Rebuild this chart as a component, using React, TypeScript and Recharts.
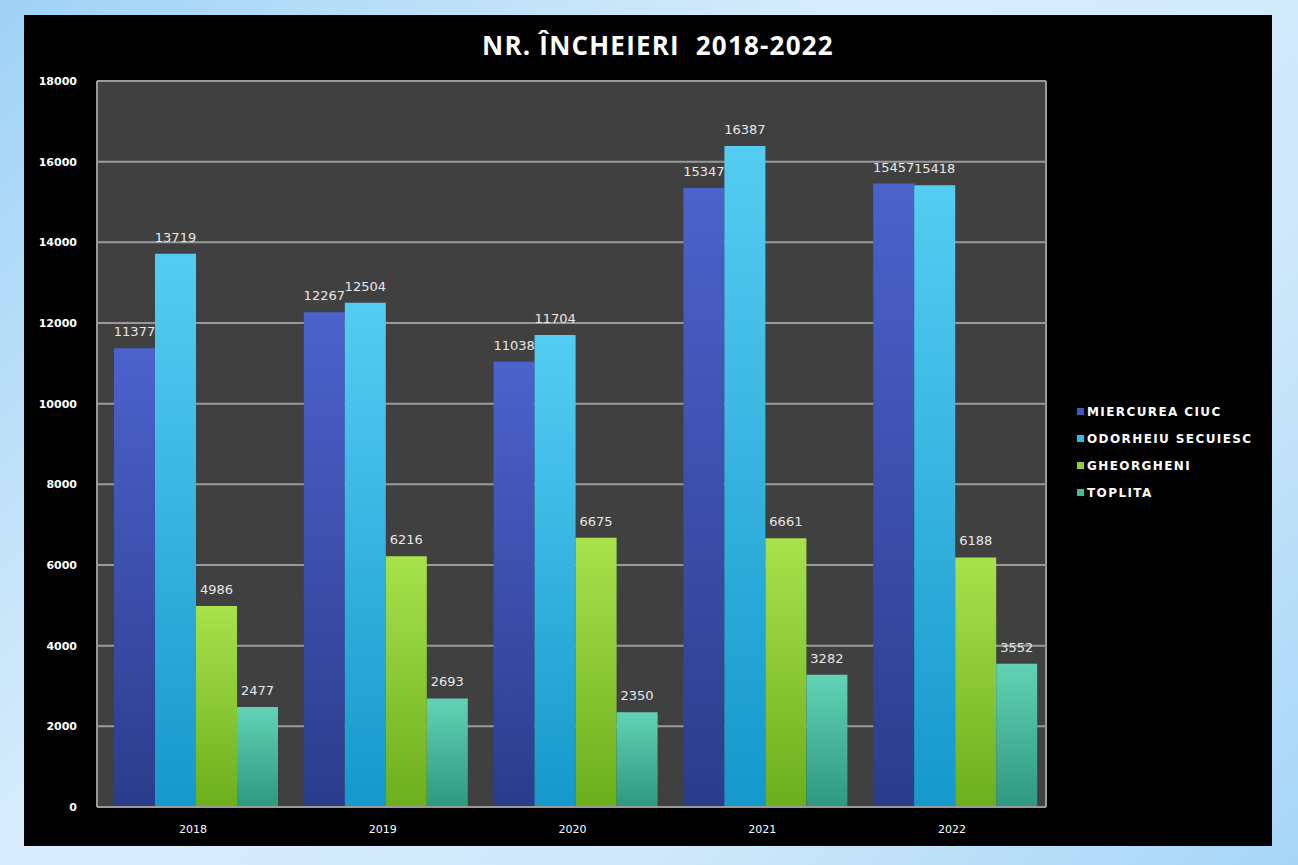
import React from "react";
import { BarChart, Bar, XAxis, YAxis, CartesianGrid, Legend, LabelList } from "recharts";

const years = ["2018", "2019", "2020", "2021", "2022"];
const miercureaCiuc = [11377, 12267, 11038, 15347, 15457];
const odorheiuSecuiesc = [13719, 12504, 11704, 16387, 15418];
const gheorgheni = [4986, 6216, 6675, 6661, 6188];
const toplita = [2477, 2693, 2350, 3282, 3552];
const yTicks = [0, 2000, 4000, 6000, 8000, 10000, 12000, 14000, 16000, 18000];

const seriesNames = ["MIERCUREA CIUC", "ODORHEIU SECUIESC", "GHEORGHENI", "TOPLITA"];
const seriesKeys = ["mc", "os", "gh", "to"];
const gradTop = ["#4c62cc", "#55cdf2", "#a8e24c", "#62d2b4"];
const gradBottom = ["#2c3c8c", "#1598cc", "#6cae1c", "#2e9880"];
const legendColors = ["#3f55c0", "#36b8e6", "#8fd035", "#45b89a"];

const data = years.map((y, i) => ({
  year: y,
  mc: miercureaCiuc[i],
  os: odorheiuSecuiesc[i],
  gh: gheorgheni[i],
  to: toplita[i],
}));

const FONT = "'DejaVu Sans', Verdana, sans-serif";

const renderLegend = () => (
  <div style={{ fontFamily: FONT }}>
    {seriesNames.map((n, i) => (
      <div key={n} style={{ display: "flex", alignItems: "center", height: 27 }}>
        <span style={{ width: 7, height: 7, background: legendColors[i], display: "inline-block", marginRight: 3 }} />
        <span style={{ color: "#ffffff", fontSize: 12, fontWeight: "bold", letterSpacing: 1.4 }}>{n}</span>
      </div>
    ))}
  </div>
);

export default function App() {
  return (
    <div
      style={{
        position: "absolute",
        left: 0,
        top: 0,
        width: 1298,
        height: 865,
        background: "linear-gradient(135deg, #9fd2f6 0%, #d8edfb 40%, #cfe8fa 70%, #a6d6f7 100%)",
        overflow: "hidden",
      }}
    >
      <div
        style={{
          position: "absolute",
          left: 24,
          top: 15,
          width: 1248,
          height: 831,
          background: "#000000",
        }}
      >
        <div
          style={{
            position: "absolute",
            left: 0,
            top: 12,
            width: 1268,
            textAlign: "center",
            color: "#ffffff",
            fontFamily: "'Open Sans', sans-serif",
            fontWeight: "bold",
            fontSize: 26,
            letterSpacing: 1.2,
            whiteSpace: "pre",
          }}
        >
          {"NR. ÎNCHEIERI  2018-2022"}
        </div>
        <BarChart
          width={1248}
          height={831}
          data={data}
          margin={{ top: 66, right: 226, bottom: 14, left: 0 }}
          barCategoryGap={13}
          barGap={0}
        >
          <defs>
            {seriesKeys.map((k, i) => (
              <linearGradient key={k} id={"g_" + k} x1="0" y1="0" x2="0" y2="1">
                <stop offset="0%" stopColor={gradTop[i]} />
                <stop offset="100%" stopColor={gradBottom[i]} />
              </linearGradient>
            ))}
          </defs>
          <CartesianGrid
            fill="#404040"
            stroke="#9a9a9a"
            strokeWidth={2}
            verticalCoordinatesGenerator={({ offset }: any) => [offset.left, offset.left + offset.width]}
          />
          <XAxis
            dataKey="year"
            height={25}
            padding={{ left: 4, right: -4 }}
            axisLine={{ stroke: "#9a9a9a", strokeWidth: 2 }}
            tickLine={false}
            tickMargin={12}
            tick={{ fill: "#ffffff", fontSize: 11, fontFamily: FONT, dx: -3 }}
          />
          <YAxis
            width={73}
            domain={[0, 18000]}
            ticks={yTicks}
            interval={0}
            axisLine={false}
            tickLine={false}
            tickMargin={14}
            tick={{ fill: "#ffffff", fontSize: 11, fontFamily: FONT, fontWeight: "bold" }}
          />
          <Legend
            layout="vertical"
            align="center"
            verticalAlign="middle"
            content={renderLegend}
            wrapperStyle={{ left: 1053, top: 383, width: 210 }}
          />
          {seriesKeys.map((k, i) => (
            <Bar key={k} dataKey={k} name={seriesNames[i]} fill={"url(#g_" + k + ")"} isAnimationActive={false}>
              <LabelList
                dataKey={k}
                position="top"
                offset={12}
                fill="#e8e8e8"
                fontSize={13}
                fontFamily={FONT}
              />
            </Bar>
          ))}
        </BarChart>
      </div>
    </div>
  );
}
